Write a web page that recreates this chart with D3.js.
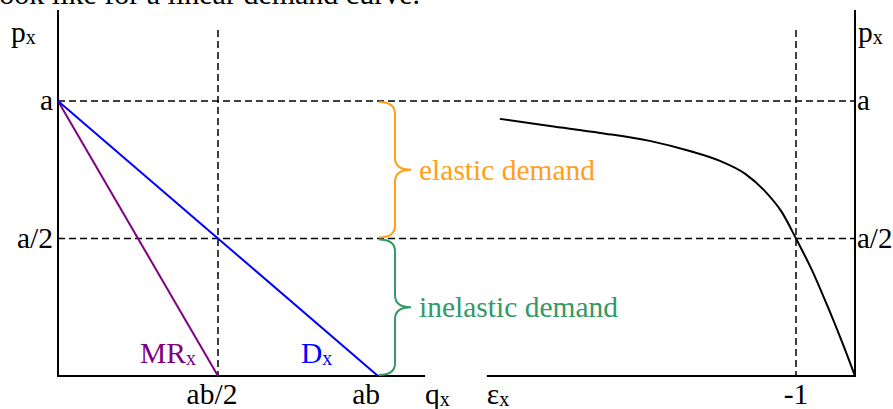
<!DOCTYPE html>
<html>
<head>
<meta charset="utf-8">
<script src="https://cdn.jsdelivr.net/npm/d3@7"></script>
<style>
  body { margin: 0; background: #fff; }
</style>
</head>
<body>
<div id="chart"></div>
<script>
// price levels (in units of a) and their labels
const pLevels = [1, 0.5];
const pLabels = ["a", "a/2"];
// quantity ticks (in units of ab)
const qLevels = [0.5, 1];
const qLabels = ["ab/2", "ab"];
// elasticity tick
const eLevels = [-1];
const eLabels = ["-1"];

// lines, [q, p]
const demandLine = [[0, 1], [1, 0]];
const mrLine = [[0, 1], [0.5, 0]];

// elasticity curve, [epsilon, p]
const elasticityCurve = [
  [-6.02, 0.935], [-5.17, 0.909], [-4.32, 0.884], [-3.48, 0.855],
  [-2.80, 0.818], [-2.29, 0.782], [-1.86, 0.735], [-1.53, 0.673],
  [-1.24, 0.596], [-1.0, 0.5], [-0.73, 0.385], [-0.46, 0.251],
  [-0.22, 0.124], [0, 0]
];

const regions = [
  {from: 1, to: 0.5, text: "elastic demand", color: "#ffa01a"},
  {from: 0.5, to: 0, text: "inelastic demand", color: "#339966"}
];

const width = 893, height = 409;
const fs = 29.5, subFs = 20;
const serif = "'Liberation Serif', 'Times New Roman', Times, 'DejaVu Serif', serif";

const svg = d3.select("#chart").append("svg")
    .attr("width", width)
    .attr("height", height)
    .attr("font-family", serif);

const x = d3.scaleLinear().domain([0, 1]).range([58, 378]);
const y = d3.scaleLinear().domain([0, 1]).range([376, 101]);
const xe = d3.scaleLinear().domain([-1, 0]).range([796, 855]);

const pTop = y.invert(10), pDash = y.invert(30);

// clipped sentence at the top (cut off in the original too)
svg.append("text")
    .attr("x", -9).attr("y", 4)
    .attr("font-size", 30)
    .attr("font-family", serif)
    .text("look like for a linear demand curve.");

// dashed guides
const dash = "7,4";
pLevels.forEach(p => {
  svg.append("line")
      .attr("x1", x(0)).attr("x2", xe(0))
      .attr("y1", y(p)).attr("y2", y(p))
      .attr("stroke", "black").attr("stroke-width", 1.5)
      .attr("stroke-dasharray", dash);
});
[x(0.5), xe(-1)].forEach(vx => {
  svg.append("line")
      .attr("x1", vx).attr("x2", vx)
      .attr("y1", y(pDash)).attr("y2", y(0))
      .attr("stroke", "black").attr("stroke-width", 1.5)
      .attr("stroke-dasharray", dash);
});

// axes
svg.append("line")
    .attr("x1", x(0)).attr("x2", x(0))
    .attr("y1", y(pTop)).attr("y2", y(0))
    .attr("stroke", "black").attr("stroke-width", 2);
svg.append("line")
    .attr("x1", x(0) - 1).attr("x2", x(1.147))
    .attr("y1", y(0)).attr("y2", y(0))
    .attr("stroke", "black").attr("stroke-width", 2);
svg.append("line")
    .attr("x1", xe(0)).attr("x2", xe(0))
    .attr("y1", y(pTop)).attr("y2", y(0) + 1)
    .attr("stroke", "black").attr("stroke-width", 2);
svg.append("line")
    .attr("x1", xe(-6.24)).attr("x2", xe(0))
    .attr("y1", y(0)).attr("y2", y(0))
    .attr("stroke", "black").attr("stroke-width", 2);

// demand and MR
const line = d3.line().x(d => x(d[0])).y(d => y(d[1]));
svg.append("path").datum(mrLine)
    .attr("d", line).attr("fill", "none")
    .attr("stroke", "purple").attr("stroke-width", 2);
svg.append("path").datum(demandLine)
    .attr("d", line).attr("fill", "none")
    .attr("stroke", "blue").attr("stroke-width", 2);

// elasticity curve
const eLine = d3.line()
    .x(d => xe(d[0])).y(d => y(d[1]))
    .curve(d3.curveMonotoneX);
svg.append("path").datum(elasticityCurve)
    .attr("d", eLine).attr("fill", "none")
    .attr("stroke", "black").attr("stroke-width", 2);

// braces
function brace(bx, y0, y1, w, r) {
  const ym = (y0 + y1) / 2, xm = bx + w / 2;
  return `M${bx},${y0} Q${xm},${y0} ${xm},${y0 + r} L${xm},${ym - r} ` +
         `Q${xm},${ym} ${bx + w},${ym} Q${xm},${ym} ${xm},${ym + r} ` +
         `L${xm},${y1 - r} Q${xm},${y1} ${bx},${y1}`;
}
regions.forEach(r => {
  const y0 = y(r.from) + 1, y1 = y(r.to) - 1;
  svg.append("path")
      .attr("d", brace(x(1) + 1, y0, y1, 32, 12))
      .attr("fill", "none")
      .attr("stroke", r.color).attr("stroke-width", 2);
  svg.append("text")
      .attr("x", x(1) + 41)
      .attr("y", (y0 + y1) / 2 + 10)
      .attr("font-size", fs)
      .attr("font-family", serif)
      .attr("fill", r.color)
      .text(r.text);
});

// label helper with subscript
function subLabel(tx, ty, main, sub, color, anchor) {
  const t = svg.append("text")
      .attr("x", tx).attr("y", ty)
      .attr("font-size", fs)
      .attr("font-family", serif)
      .attr("fill", color || "black")
      .attr("text-anchor", anchor || "start");
  t.append("tspan").text(main);
  t.append("tspan").attr("font-size", subFs).attr("dy", 2).text(sub);
  return t;
}

function label(tx, ty, txt, anchor, size) {
  return svg.append("text")
      .attr("x", tx).attr("y", ty)
      .attr("text-anchor", anchor || "start")
      .attr("font-size", size || fs)
      .attr("font-family", serif)
      .text(txt);
}

// price labels (both panels)
pLevels.forEach((p, i) => {
  label(x(0) - 5, y(p) + 9, pLabels[i], "end");
  label(xe(0) + 2, y(p) + 9, pLabels[i], "start", 29);
});

// quantity labels
qLevels.forEach((q, i) => {
  if (q === 1) label(x(q) + 2, 404, qLabels[i], "end");
  else label(x(q) - 6, 404, qLabels[i], "middle");
});
eLevels.forEach((e, i) => {
  label(xe(e), 404, eLabels[i], "middle");
});

subLabel(11, 42, "p", "x");
subLabel(xe(0) + 3, 42, "p", "x");
subLabel(x(1.147), 404, "q", "x");
subLabel(xe(-6.24), 404, "ε", "x");
subLabel(140, 363, "MR", "x", "purple");
subLabel(301, 363, "D", "x", "blue");
</script>
</body>
</html>
